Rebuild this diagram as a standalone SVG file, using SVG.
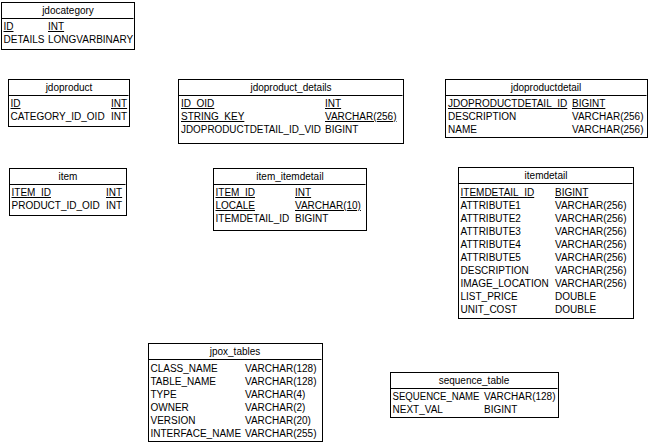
<svg xmlns="http://www.w3.org/2000/svg" width="649" height="443" viewBox="0 0 649 443">
<style>
.box{fill:#fff;stroke:#000;stroke-width:1}
.sep{stroke:#000;stroke-width:1}
text{font-family:"Liberation Sans",Arial,sans-serif;font-size:10px;fill:#000}
.hd{text-anchor:middle}
.pk{text-decoration:underline}
</style>
<rect width="649" height="443" fill="#fff"/>
<g id="connectors"></g>

<g id="jdocategory">
<rect class="box" x="1.5" y="2.5" width="133" height="47"/>
<line class="sep" x1="1.5" y1="18.5" x2="133.5" y2="18.5"/>
<text class="hd" x="68" y="14">jdocategory</text>
<text class="pk" x="3.5" y="30">ID</text><text class="pk" x="48" y="30">INT</text>
<text x="3.5" y="43">DETAILS</text><text x="48" y="43">LONGVARBINARY</text>
</g>

<g id="jdoproduct">
<rect class="box" x="8.5" y="79.5" width="121" height="47"/>
<line class="sep" x1="8.5" y1="95.5" x2="128.5" y2="95.5"/>
<text class="hd" x="69" y="91">jdoproduct</text>
<text class="pk" x="10.5" y="107">ID</text><text class="pk" x="111" y="107">INT</text>
<text x="10.5" y="120">CATEGORY_ID_OID</text><text x="111" y="120">INT</text>
</g>

<g id="jdoproduct_details">
<rect class="box" x="178.5" y="79.5" width="225" height="64"/>
<line class="sep" x1="178.5" y1="95.5" x2="402.5" y2="95.5"/>
<text class="hd" x="291" y="91">jdoproduct_details</text>
<text class="pk" x="181" y="107">ID_OID</text><text class="pk" x="325" y="107">INT</text>
<text class="pk" x="181" y="120">STRING_KEY</text><text class="pk" x="325" y="120">VARCHAR(256)</text>
<text x="181" y="133" textLength="140" lengthAdjust="spacingAndGlyphs">JDOPRODUCTDETAIL_ID_VID</text><text x="325" y="133">BIGINT</text>
</g>

<g id="jdoproductdetail">
<rect class="box" x="445.5" y="79.5" width="202" height="58"/>
<line class="sep" x1="445.5" y1="95.5" x2="646.5" y2="95.5"/>
<text class="hd" x="546" y="91">jdoproductdetail</text>
<text class="pk" x="448" y="107">JDOPRODUCTDETAIL_ID</text><text class="pk" x="572" y="107">BIGINT</text>
<text x="448" y="120">DESCRIPTION</text><text x="572" y="120">VARCHAR(256)</text>
<text x="448" y="133">NAME</text><text x="572" y="133">VARCHAR(256)</text>
</g>

<g id="item">
<rect class="box" x="9.5" y="168.5" width="117" height="47"/>
<line class="sep" x1="9.5" y1="184.5" x2="125.5" y2="184.5"/>
<text class="hd" x="68" y="180">item</text>
<text class="pk" x="11.5" y="196">ITEM_ID</text><text class="pk" x="106" y="196">INT</text>
<text x="11.5" y="209">PRODUCT_ID_OID</text><text x="106" y="209">INT</text>
</g>

<g id="item_itemdetail">
<rect class="box" x="213.5" y="168.5" width="153" height="62"/>
<line class="sep" x1="213.5" y1="184.5" x2="365.5" y2="184.5"/>
<text class="hd" x="290" y="180">item_itemdetail</text>
<text class="pk" x="215.5" y="196">ITEM_ID</text><text class="pk" x="295" y="196">INT</text>
<text class="pk" x="215.5" y="209">LOCALE</text><text class="pk" x="295" y="209">VARCHAR(10)</text>
<text x="215.5" y="222">ITEMDETAIL_ID</text><text x="295" y="222">BIGINT</text>
</g>

<g id="itemdetail">
<rect class="box" x="458.5" y="167.5" width="175" height="151"/>
<line class="sep" x1="458.5" y1="183.5" x2="632.5" y2="183.5"/>
<text class="hd" x="546" y="179">itemdetail</text>
<text class="pk" x="460.5" y="196">ITEMDETAIL_ID</text><text class="pk" x="555" y="196">BIGINT</text>
<text x="460.5" y="209">ATTRIBUTE1</text><text x="555" y="209">VARCHAR(256)</text>
<text x="460.5" y="222">ATTRIBUTE2</text><text x="555" y="222">VARCHAR(256)</text>
<text x="460.5" y="235">ATTRIBUTE3</text><text x="555" y="235">VARCHAR(256)</text>
<text x="460.5" y="248">ATTRIBUTE4</text><text x="555" y="248">VARCHAR(256)</text>
<text x="460.5" y="261">ATTRIBUTE5</text><text x="555" y="261">VARCHAR(256)</text>
<text x="460.5" y="274">DESCRIPTION</text><text x="555" y="274">VARCHAR(256)</text>
<text x="460.5" y="287">IMAGE_LOCATION</text><text x="555" y="287">VARCHAR(256)</text>
<text x="460.5" y="300">LIST_PRICE</text><text x="555" y="300">DOUBLE</text>
<text x="460.5" y="313">UNIT_COST</text><text x="555" y="313">DOUBLE</text>
</g>

<g id="jpox_tables">
<rect class="box" x="148.5" y="343.5" width="174" height="98"/>
<line class="sep" x1="148.5" y1="359.5" x2="321.5" y2="359.5"/>
<text class="hd" x="235" y="355">jpox_tables</text>
<text x="150.5" y="372">CLASS_NAME</text><text x="245" y="372">VARCHAR(128)</text>
<text x="150.5" y="385">TABLE_NAME</text><text x="245" y="385">VARCHAR(128)</text>
<text x="150.5" y="398">TYPE</text><text x="245" y="398">VARCHAR(4)</text>
<text x="150.5" y="411">OWNER</text><text x="245" y="411">VARCHAR(2)</text>
<text x="150.5" y="424">VERSION</text><text x="245" y="424">VARCHAR(20)</text>
<text x="150.5" y="437">INTERFACE_NAME</text><text x="245" y="437">VARCHAR(255)</text>
</g>

<g id="sequence_table">
<rect class="box" x="390.5" y="372.5" width="168" height="45"/>
<line class="sep" x1="390.5" y1="388.5" x2="557.5" y2="388.5"/>
<text class="hd" x="474" y="384">sequence_table</text>
<text x="392.5" y="400" textLength="87" lengthAdjust="spacingAndGlyphs">SEQUENCE_NAME</text><text x="484" y="400">VARCHAR(128)</text>
<text x="392.5" y="413">NEXT_VAL</text><text x="484" y="413">BIGINT</text>
</g>
</svg>
